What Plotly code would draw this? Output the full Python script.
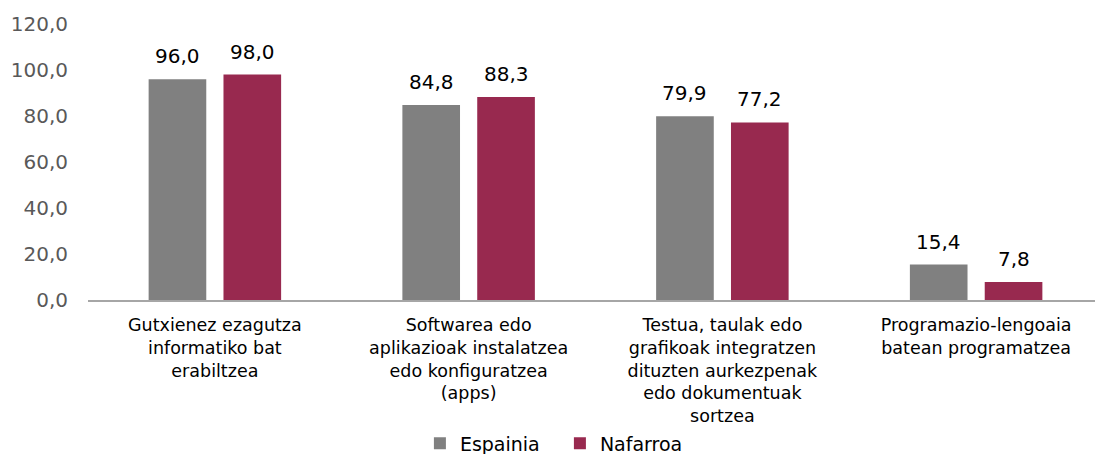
import plotly.graph_objects as go

categories = [
    "Gutxienez ezagutza<br>informatiko bat<br>erabiltzea",
    "Softwarea edo<br>aplikazioak instalatzea<br>edo konfiguratzea<br>(apps)",
    "Testua, taulak edo<br>grafikoak integratzen<br>dituzten aurkezpenak<br>edo dokumentuak<br>sortzea",
    "Programazio-lengoaia<br>batean programatzea",
]
espainia = [96.0, 84.8, 79.9, 15.4]
nafarroa = [98.0, 88.3, 77.2, 7.8]
y_ticks = [0, 20, 40, 60, 80, 100, 120]

FONT = "DejaVu Sans"
# the page body has an 8px margin, so the figure is 8px smaller than the window
W, H = 1095, 446
ML, MR, MT, MB = 80, 0, 16, 154
BARGAP, BARGROUPGAP = 0.41, 0.23

fig = go.Figure()
fig.add_trace(go.Bar(
    name="Espainia", x=categories, y=espainia,
    marker=dict(color="#808080", line=dict(width=0)),
))
fig.add_trace(go.Bar(
    name="Nafarroa", x=categories, y=nafarroa,
    marker=dict(color="#98294F", line=dict(width=0)),
))

# value labels placed above each bar (offset to the bar's group slot)
cat_px = (W - ML - MR) / len(categories)
slot_px = (1 - BARGAP) * cat_px / 2
for series, sign in ((espainia, -1), (nafarroa, 1)):
    for c, v in zip(categories, series):
        fig.add_annotation(
            x=c, y=v, xref="x", yref="y",
            text=f"{v:.1f}".replace(".", ","),
            showarrow=False, yanchor="bottom", xanchor="center",
            xshift=sign * slot_px / 2, yshift=9,
            font=dict(family=FONT, size=20, color="#000000"),
        )

fig.update_layout(
    width=W, height=H,
    margin=dict(l=ML, r=MR, t=MT, b=MB, autoexpand=False),
    paper_bgcolor="white", plot_bgcolor="white",
    separators=",.",
    barmode="group", bargap=BARGAP, bargroupgap=BARGROUPGAP,
    font=dict(family=FONT, size=18, color="#000000"),
    showlegend=True,
    legend=dict(
        orientation="h", x=0.327, xanchor="left", y=-0.52, yanchor="middle",
        font=dict(family=FONT, size=19, color="#000000"),
        bgcolor="rgba(0,0,0,0)",
        traceorder="normal", entrywidth=95, entrywidthmode="pixels",
    ),
    xaxis=dict(
        showline=True, linecolor="#A6A6A6", linewidth=2,
        showgrid=False, ticks="", ticklabelstandoff=8,
        tickfont=dict(family=FONT, size=17.5, color="#000000"),
    ),
    yaxis=dict(
        range=[0, 120], tickvals=y_ticks, tickformat=".1f",
        showline=False, showgrid=False, zeroline=False,
        ticks="", ticklabelstandoff=19,
        tickfont=dict(family=FONT, size=20, color="#595959"),
    ),
)

fig.write_html("out.html")
